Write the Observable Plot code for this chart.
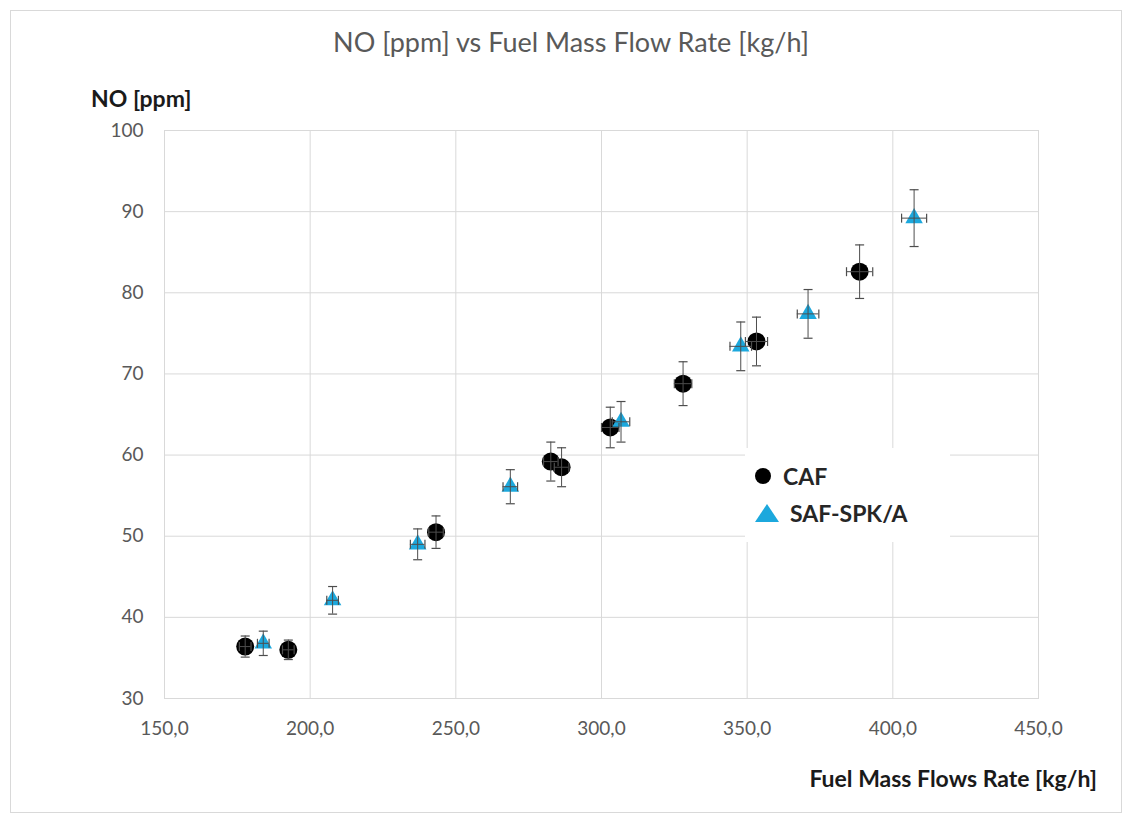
<!DOCTYPE html>
<html>
<head>
<meta charset="utf-8">
<script src="https://cdn.jsdelivr.net/npm/d3@7"></script>
<script src="https://cdn.jsdelivr.net/npm/@observablehq/plot@0.6"></script>
<style>
  html, body { margin: 0; padding: 0; background: #fff; }
  #wrap { position: relative; width: 1130px; height: 821px; font-family: Lato, "Open Sans", sans-serif; overflow: hidden; }
  #border { position: absolute; left: 10px; top: 10px; width: 1112px; height: 803px; border: 1px solid #d9d9d9; box-sizing: border-box; }
  #chart { position: absolute; left: 0; top: 0; }
  .lbl { position: absolute; white-space: nowrap; line-height: 1; }
  #title { left: 571px; top: 28px; transform: translateX(-50%); font-size: 27px; color: #595959; }
  #ylab { left: 91px; top: 87px; font-size: 23px; font-weight: bold; color: #1a1a1a; }
  #xlab { right: 33px; top: 767px; font-size: 23px; font-weight: bold; color: #1a1a1a; }
  #legend { position: absolute; left: 745px; top: 448px; width: 205px; height: 94px; background: #fff; }
  .item { position: absolute; display: flex; align-items: center; font-size: 23px; font-weight: bold; color: #262626; white-space: nowrap; }
</style>
</head>
<body>
<div id="wrap">
  <div id="border"></div>
  <div id="chart"></div>
  <div class="lbl" id="title">NO [ppm] vs Fuel Mass Flow Rate [kg/h]</div>
  <div class="lbl" id="ylab">NO [ppm]</div>
  <div class="lbl" id="xlab">Fuel Mass Flows Rate [kg/h]</div>
  <div id="legend">
    <div class="item" style="left:8px; top:14px;">
      <svg width="26" height="26" style="margin-right:4px"><circle cx="10" cy="13" r="8" fill="#000"/></svg>CAF
    </div>
    <div class="item" style="left:8px; top:51px;">
      <svg width="34" height="26" style="margin-right:3px"><path d="M2,22 L14,4 L26,22 Z" fill="#1ca8dd"/></svg>SAF-SPK/A
    </div>
  </div>
</div>
<script>
// CAF series
const cafX    = [177.7, 192.5, 243.2, 282.6, 286.3, 303.0, 328.0, 353.2, 388.6];
const cafY    = [36.4, 36.0, 50.5, 59.2, 58.5, 63.4, 68.8, 74.0, 82.6];
const cafYErr = [1.3, 1.2, 2.0, 2.4, 2.4, 2.5, 2.7, 3.0, 3.3];
const cafXErr = [2.0, 2.0, 2.5, 2.5, 2.5, 3.0, 3.0, 3.8, 4.5];
// SAF-SPK/A series
const safX    = [183.9, 207.7, 236.9, 268.7, 306.7, 347.8, 370.9, 407.3];
const safY    = [36.8, 42.1, 49.0, 56.1, 64.1, 73.4, 77.4, 89.2];
const safYErr = [1.5, 1.7, 1.9, 2.1, 2.5, 3.0, 3.0, 3.5];
const safXErr = [2.0, 2.0, 2.5, 2.5, 3.0, 3.7, 3.7, 4.3];
// ticks
const xTicks = [150, 200, 250, 300, 350, 400, 450];
const yTicks = [30, 40, 50, 60, 70, 80, 90, 100];

const caf = cafX.map((x, i) => ({x, y: cafY[i], ye: cafYErr[i], xe: cafXErr[i]}));
const saf = safX.map((x, i) => ({x, y: safY[i], ye: safYErr[i], xe: safXErr[i]}));

const hCap = {draw(ctx) { ctx.moveTo(-4.5, 0); ctx.lineTo(4.5, 0); }};
const vCap = {draw(ctx) { ctx.moveTo(0, -4.5); ctx.lineTo(0, 4.5); }};
const errColor = "#4d4d4d";

function errMarks(data) {
  return [
    Plot.ruleX(data, {x: "x", y1: d => d.y - d.ye, y2: d => d.y + d.ye, stroke: errColor, strokeWidth: 1}),
    Plot.dot(data, {x: "x", y: d => d.y - d.ye, symbol: hCap, stroke: errColor, fill: "none", strokeWidth: 1.2}),
    Plot.dot(data, {x: "x", y: d => d.y + d.ye, symbol: hCap, stroke: errColor, fill: "none", strokeWidth: 1.2}),
    Plot.ruleY(data, {y: "y", x1: d => d.x - d.xe, x2: d => d.x + d.xe, stroke: errColor, strokeWidth: 1}),
    Plot.dot(data, {x: d => d.x - d.xe, y: "y", symbol: vCap, stroke: errColor, fill: "none", strokeWidth: 1.2}),
    Plot.dot(data, {x: d => d.x + d.xe, y: "y", symbol: vCap, stroke: errColor, fill: "none", strokeWidth: 1.2})
  ];
}

const chart = Plot.plot({
  width: 1130,
  height: 821,
  marginLeft: 164,
  marginRight: 92,
  marginTop: 130,
  marginBottom: 123,
  style: {fontFamily: "Lato, 'Open Sans', sans-serif", fontSize: "19px", color: "#595959", background: "transparent"},
  x: {domain: [150, 450], label: null},
  y: {domain: [30, 100], label: null},
  marks: [
    Plot.gridX(xTicks, {stroke: "#d9d9d9", strokeOpacity: 1, strokeWidth: 1}),
    Plot.gridY(yTicks, {stroke: "#d9d9d9", strokeOpacity: 1, strokeWidth: 1}),
    Plot.frame({stroke: "#d9d9d9"}),
    Plot.axisX({ticks: xTicks, tickSize: 0, tickPadding: 23, fontSize: 19, tickFormat: d => d.toFixed(1).replace(".", ","), label: null}),
    Plot.axisY({ticks: yTicks, tickSize: 0, tickPadding: 21, fontSize: 19, label: null}),
    Plot.dot(caf, {x: "x", y: "y", r: 9, fill: "#000", stroke: "none"}),
    Plot.dot(saf, {x: "x", y: "y", r: 6.5, symbol: "triangle", fill: "#1ca8dd", stroke: "none"}),
    ...errMarks(caf),
    ...errMarks(saf)
  ]
});
document.getElementById("chart").appendChild(chart);
</script>
</body>
</html>
